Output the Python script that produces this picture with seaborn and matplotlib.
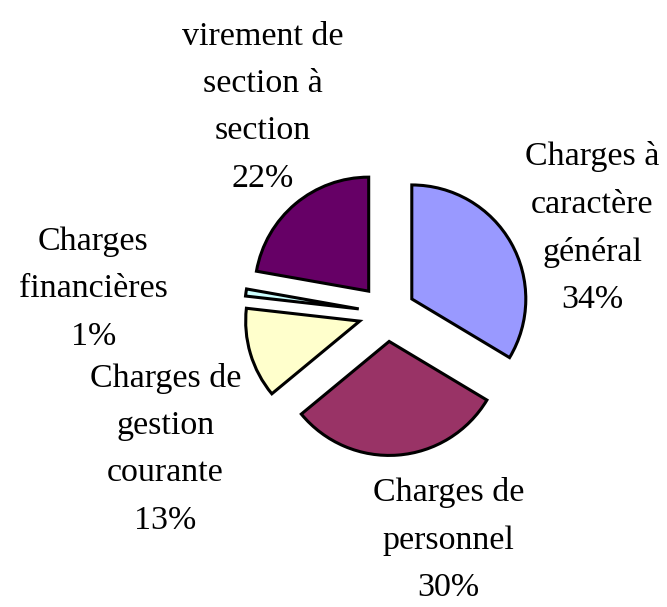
import matplotlib
matplotlib.use("Agg")
import matplotlib.pyplot as plt
import seaborn as sns

categories = ["Charges à\ncaractère\ngénéral", "Charges de\npersonnel",
              "Charges de\ngestion\ncourante", "Charges\nfinancières",
              "virement de\nsection à\nsection"]
values = [33.6, 30.4, 12.8, 1.0, 22.2]
colors = ["#9999FF", "#993366", "#FFFFCC", "#CCFFFF", "#660066"]

# label block centres, figure fraction
label_pos = [(0.888, 0.624), (0.672, 0.110), (0.248, 0.260), (0.140, 0.524), (0.394, 0.823)]

sns.set_theme(style="white")
plt.rcParams["font.family"] = ["Liberation Serif", "DejaVu Serif"]

fig = plt.figure(figsize=(6.67, 6.07), dpi=100)
ax = fig.add_axes([0, 0, 1, 1])
ax.pie(values, colors=colors, startangle=90, counterclock=False,
       explode=[0.25] * len(values), radius=1,
       wedgeprops=dict(edgecolor="black", linewidth=2.2))
r_px = 114
cx, cy = 387, 607 - 313
ax.set_xlim(-cx / r_px, (667 - cx) / r_px)
ax.set_ylim(-cy / r_px, (607 - cy) / r_px)
ax.set_aspect("equal")
ax.axis("off")

for name, v, (x, y) in zip(categories, values, label_pos):
    fig.text(x, y, f"{name}\n{v:.0f}%", ha="center", va="center",
             fontsize=24.5, linespacing=1.72, color="black")

fig.savefig("out.png", dpi=100)
